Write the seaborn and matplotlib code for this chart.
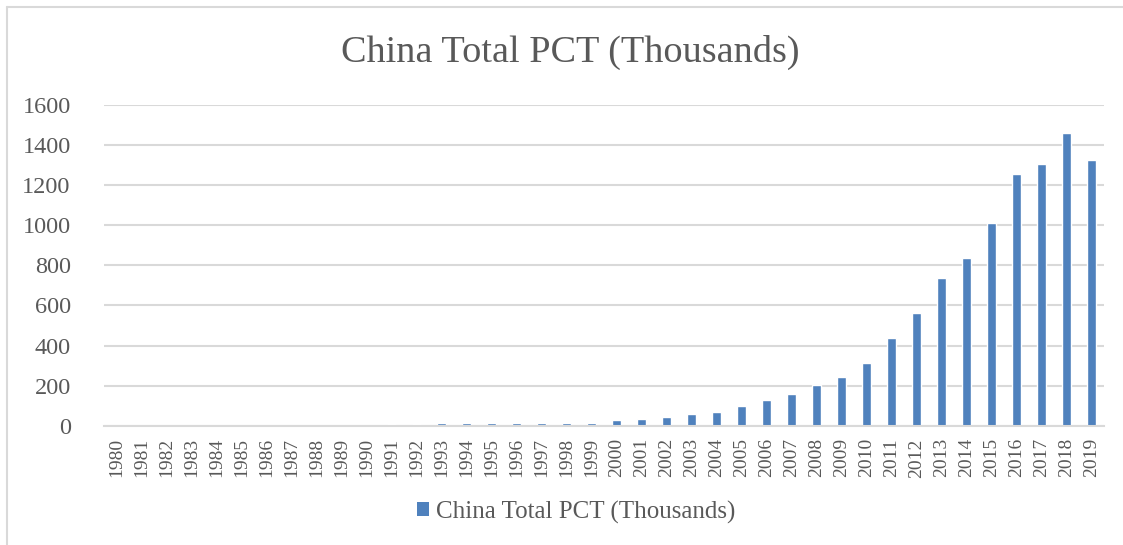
import numpy as np
import pandas as pd
import matplotlib
matplotlib.use("Agg")
import matplotlib.pyplot as plt
import seaborn as sns
from matplotlib.lines import Line2D
from matplotlib.patches import Patch

# -----------------------------
# Data
# -----------------------------
years = [str(y) for y in range(1980, 2020)]
pct_thousands = [
    1, 1, 1, 1, 1, 3, 3, 3, 4, 4,
    5, 8, 10, 12, 11, 11, 12, 12, 13, 15,
    26, 31, 41, 60, 68, 99, 129, 159, 204, 243,
    313, 437, 561, 735, 838, 1012, 1257, 1307, 1461, 1327,
]
y_ticks = [0, 200, 400, 600, 800, 1000, 1200, 1400, 1600]
series_name = "China Total PCT (Thousands)"

df = pd.DataFrame({"Year": years, "Value": pct_thousands})

# -----------------------------
# Style
# -----------------------------
sns.set_theme(style="white")
plt.rcParams["font.family"] = ["Liberation Serif", "DejaVu Serif"]

bar_color = "#4F81BD"
grid_color = "#D9D9D9"
text_color = "#595959"

W, H = 1123, 545
fig = plt.figure(figsize=(W / 100, H / 100), dpi=100)

left, right, top, bottom = 104, 1104, 105, 425.7
ax = fig.add_axes([left / W, (H - bottom) / H, (right - left) / W, (bottom - top) / H])

sns.barplot(data=df, x="Year", y="Value", color=bar_color, width=0.33,
            saturation=1, ax=ax)

ax.set_ylim(0, 1600)
ax.set_xlim(-0.5, len(years) - 0.5)
ax.set_yticks(y_ticks)
ax.set_yticklabels([str(v) for v in y_ticks], fontsize=17.5, color=text_color)
ax.tick_params(axis="y", length=0, pad=24)
ax.tick_params(axis="x", length=0, pad=9, labelsize=14, labelcolor=text_color,
               labelrotation=90)
ax.set_xlabel("")
ax.set_ylabel("")

ax.yaxis.grid(True, color=grid_color, linewidth=1.5)
ax.set_axisbelow(True)
for side in ["left", "right", "top"]:
    ax.spines[side].set_visible(False)
ax.spines["bottom"].set_color(grid_color)
ax.spines["bottom"].set_linewidth(1.5)

# title
fig.text(570 / W, 1 - 52 / H, series_name, ha="center", va="center",
         fontsize=27.5, color=text_color)

# legend
handle = Patch(facecolor=bar_color, edgecolor="none")
fig.legend([handle], [series_name], loc="center", bbox_to_anchor=(576 / W, 1 - 512 / H),
           frameon=False, fontsize=18, handlelength=0.5, handleheight=0.5,
           handletextpad=0.25, labelcolor=text_color)

# outer chart border (partially visible)
fig.add_artist(Line2D([7 / W, 7 / W], [0, 1 - 7 / H], transform=fig.transFigure,
                      color=grid_color, linewidth=1.5))
fig.add_artist(Line2D([7 / W, 1], [1 - 7 / H, 1 - 7 / H], transform=fig.transFigure,
                      color=grid_color, linewidth=1.5))

fig.savefig("out.png", dpi=100)
